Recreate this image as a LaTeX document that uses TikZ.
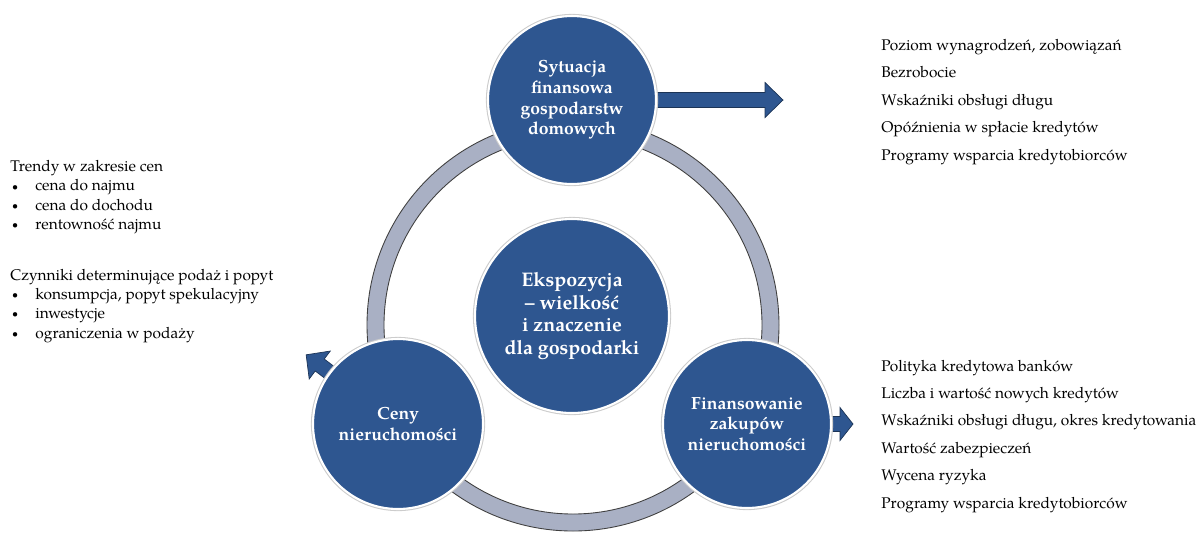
\documentclass[tikz,border=0pt]{standalone}
\usepackage{fontspec}
\setmainfont{TeX Gyre Pagella}
\usetikzlibrary{
    calc,
    positioning,
    backgrounds
}
\definecolor{granat}{HTML}{2E5690}
\definecolor{pierscien}{HTML}{A9B0C4}
\newcommand{\punkt}{\makebox[0.5cm][l]{\hspace{1pt}\raisebox{0.5pt}{\scalebox{0.7}{\textbullet}}}}

\tikzset{
  kolo/.style={circle, fill=granat, draw=white, line width=1.2pt, text=white, align=center,
    inner sep=0pt, font=\bfseries\fontsize{10}{11.7}\selectfont,
    preaction={draw=black!20, line width=2.4pt}},
  blok/.style={fill=granat, draw=granat!60!black, line width=0.4pt},
  opis/.style={anchor=north west, inner sep=0pt, align=left},
  obwod/.style={fill=pierscien, draw=black!75, line width=0.5pt, even odd rule}
}

\begin{document}
\begin{tikzpicture}[x=0.02cm, y=-0.02cm]
  \useasboundingbox (0,0) rectangle (1196,532);

  % Circles of the cycle
  \node[kolo, minimum size=3.36cm] (sytuacja) at (572,100) {Sytuacja\\finansowa\\gospodarstw\\domowych};
  \node[kolo, minimum size=3.4cm] (ceny) at (398,424) {Ceny\\nieruchomości};
  \node[kolo, minimum size=3.36cm] (finans) at (747,424) {Finansowanie\\zakupów\\nieruchomości};
  \node[kolo, minimum size=3.88cm, font=\bfseries\fontsize{11.2}{12.8}\selectfont] (ekspozycja) at (572,316)
    {Ekspozycja\\– wielkość\\i znaczenie\\dla gospodarki};

  \begin{scope}[on background layer]
    % The ring behind the circles
    \draw[obwod] (573,325) circle[radius=206] (573,325) circle[radius=189];

    % Block arrows leaving the circles
    \begin{scope}[shift={(sytuacja.center)}]
      \draw[blok] (0,-7.5) -- (193,-7.5) -- (193,-17.5) -- (211,0) -- (193,17.5) -- (193,7.5) -- (0,7.5) -- cycle;
    \end{scope}
    \begin{scope}[shift={(finans.center)}]
      \draw[blok] (0,-7.5) -- (93,-7.5) -- (93,-16.5) -- (106,0) -- (93,16.5) -- (93,7.5) -- (0,7.5) -- cycle;
    \end{scope}
    \begin{scope}[shift={(ceny.center)}, rotate=143]
      \draw[blok] (0,-7.5) -- (98,-7.5) -- (98,-17.5) -- (115,0) -- (98,17.5) -- (98,7.5) -- (0,7.5) -- cycle;
    \end{scope}
  \end{scope}

  % Lists on the right
  \node[opis, font=\fontsize{8.8}{15.65}\selectfont] (listaSytuacja) at (881,38.5) {%
    Poziom wynagrodzeń, zobowiązań\\
    Bezrobocie\\
    Wskaźniki obsługi długu\\
    Opóźnienia w spłacie kredytów\\
    Programy wsparcia kredytobiorców};
  \node[opis, font=\fontsize{8.8}{15.6}\selectfont] (listaFinans) at (881,359.5) {%
    Polityka kredytowa banków\\
    Liczba i wartość nowych kredytów\\
    Wskaźniki obsługi długu, okres kredytowania\\
    Wartość zabezpieczeń\\
    Wycena ryzyka\\
    Programy wsparcia kredytobiorców};

  % Lists on the left
  \node[opis, font=\fontsize{8.8}{11}\selectfont] (listaTrendy) at (10,160) {%
    Trendy w zakresie cen\\
    \punkt cena do najmu\\
    \punkt cena do dochodu\\
    \punkt rentowność najmu};
  \node[opis, font=\fontsize{8.8}{11}\selectfont] (listaCzynniki) at (10,268.5) {%
    Czynniki determinujące podaż i popyt\\
    \punkt konsumpcja, popyt spekulacyjny\\
    \punkt inwestycje\\
    \punkt ograniczenia w podaży};
\end{tikzpicture}
\end{document}
